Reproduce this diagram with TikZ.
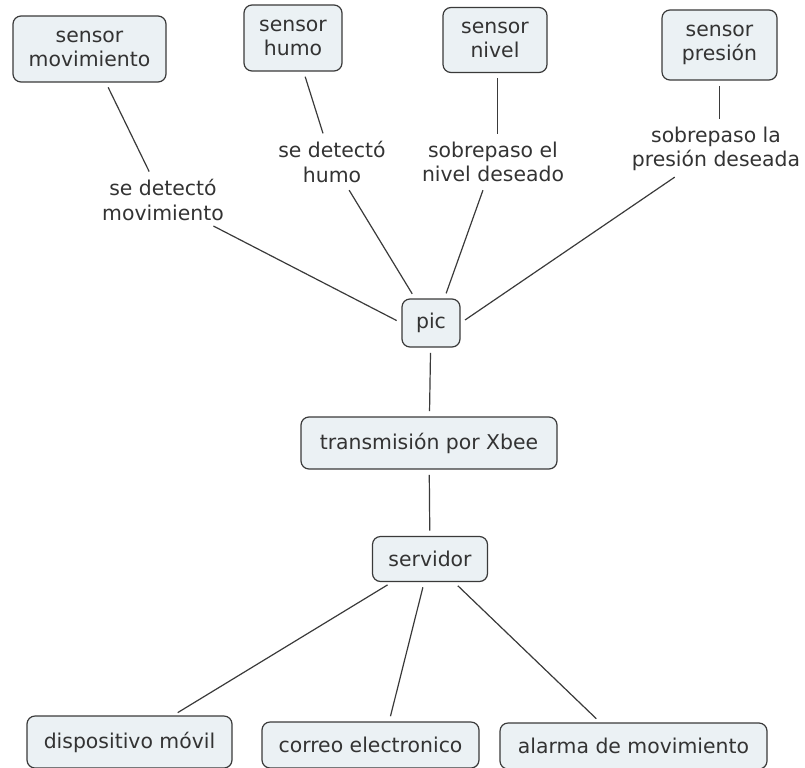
\documentclass[tikz,border=0pt]{standalone}
\usepackage{fontspec}
\setmainfont{DejaVu Sans}
\definecolor{boxfill}{HTML}{EBF1F4}
\definecolor{boxdraw}{HTML}{3A3A3A}
\definecolor{txt}{HTML}{333333}
\begin{document}
\begin{tikzpicture}[x=0.75pt,y=-0.75pt,
  concept/.style={draw=boxdraw, fill=boxfill, rounded corners=6pt, line width=0.9pt,
    align=center, text=txt, inner sep=0pt, font=\fontsize{15.3}{18.5}\selectfont},
  lbl/.style={align=center, text=txt, inner sep=2pt, font=\fontsize{15.3}{18.5}\selectfont},
  link/.style={draw=boxdraw, line width=0.9pt, shorten <=4pt, shorten >=4pt}]
\useasboundingbox (0,0) rectangle (805,767);
% concepts
\node[concept, minimum width=153*0.75pt, minimum height=66*0.75pt] (sm) at (89.5,49) {sensor\\movimiento};
\node[concept, minimum width=98*0.75pt, minimum height=66*0.75pt] (sh) at (293,38) {sensor\\humo};
\node[concept, minimum width=104*0.75pt, minimum height=65*0.75pt] (sn) at (495,40) {sensor\\nivel};
\node[concept, minimum width=115*0.75pt, minimum height=70*0.75pt] (sp) at (719.5,45) {sensor\\presión};
\node[concept, minimum width=58*0.75pt, minimum height=48*0.75pt] (pic) at (431,323) {pic};
\node[concept, minimum width=256*0.75pt, minimum height=52*0.75pt] (xb) at (429,443) {transmisión por Xbee};
\node[concept, minimum width=115*0.75pt, minimum height=45*0.75pt] (sv) at (430,559) {servidor};
\node[concept, minimum width=205*0.75pt, minimum height=52*0.75pt] (dm) at (129.5,742) {dispositivo móvil};
\node[concept, minimum width=217*0.75pt, minimum height=46*0.75pt] (ce) at (370.5,745) {correo electronico};
\node[concept, minimum width=267*0.75pt, minimum height=46*0.75pt] (am) at (633.5,746) {alarma de movimiento};
% link labels
\node[lbl] (l1) at (163,200) {se detectó\\movimiento};
\node[lbl] (l2) at (332,162) {se detectó\\humo};
\node[lbl] (l3) at (493,162) {sobrepaso el\\nivel deseado};
\node[lbl] (l4) at (716,149) {sobrepaso la\\presión deseada};
% connectors
\draw[link] (sm) -- (l1);
\draw[link] (l1) -- (pic.west);
\draw[link] (sh) -- (l2);
\draw[link] (l2) -- ([xshift=-12pt]pic.north);
\draw[link] ([xshift=2pt]sn.south) -- ([xshift=2pt]sn.south |- l3.north);
\draw[link] (l3) -- ([xshift=10pt]pic.north);
\draw[link] (sp) -- (sp |- l4.north);
\draw[link] (l4) -- (pic.east);
\draw[link] (pic) -- (xb);
\draw[link] (xb) -- (sv);
\draw[link] (sv) -- (dm);
\draw[link] (sv) -- ([xshift=14pt]ce.north);
\draw[link] (sv) -- ([xshift=-25pt]am.north);
\end{tikzpicture}
\end{document}
